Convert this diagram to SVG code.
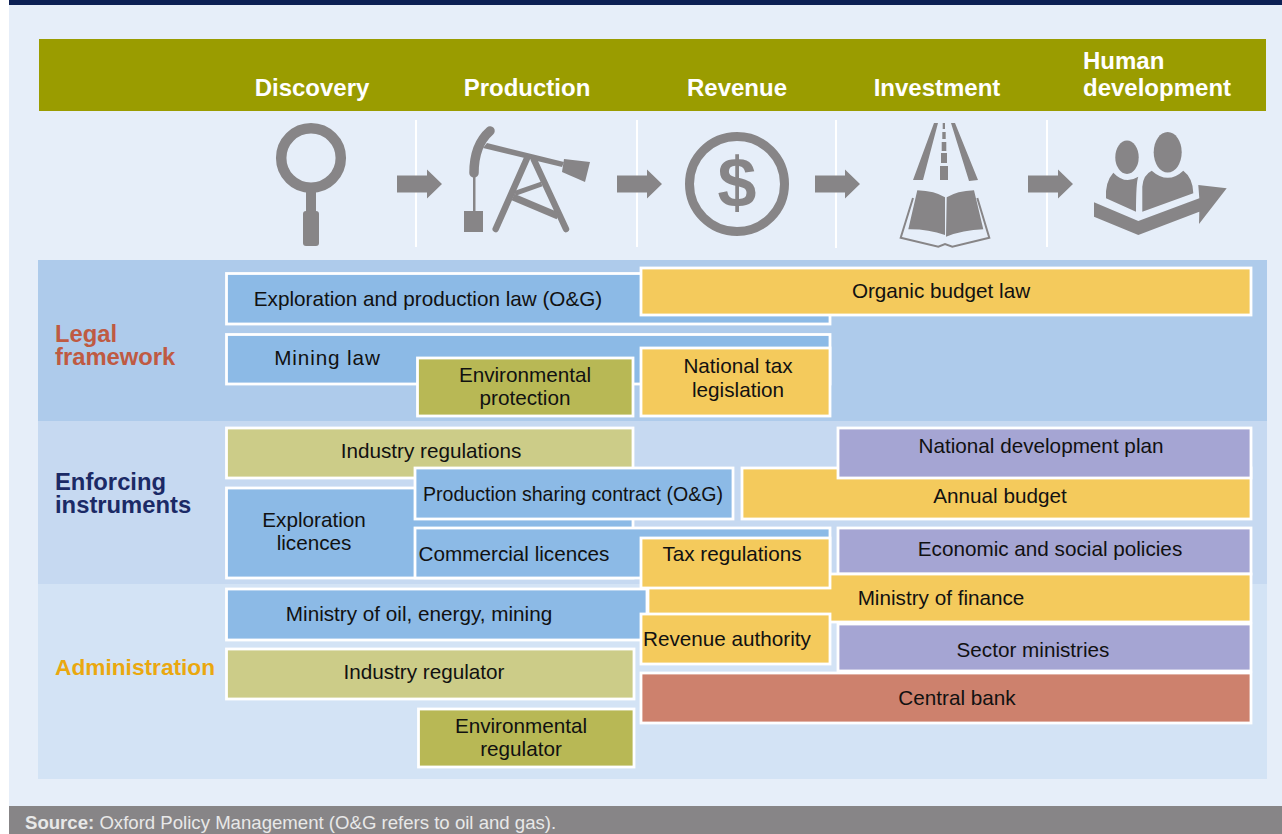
<svg xmlns="http://www.w3.org/2000/svg" width="1282" height="834" viewBox="0 0 1282 834">
<style>
text{font-family:"Liberation Sans",Arial,sans-serif}
.t{font-size:20.700px;fill:#111;text-anchor:middle}
.h{font-size:24px;font-weight:bold;fill:#fff;text-anchor:middle}
.r{font-size:23.800px;font-weight:bold}
.b{stroke:#fff;stroke-width:2.800}
.blue{fill:#8cbae6}.gold{fill:#f4ca5c}.olive{fill:#b8b855}.pale{fill:#cccc88}.lav{fill:#a5a5d3}.red{fill:#cd816d}
.i{fill:#878587}
.l{fill:none;stroke:#878587;stroke-linecap:round}
.sep{stroke:#fff;stroke-width:2}
</style>
<defs>
<path id="arr" d="M0 -8.500H30V-14.500L45 0L30 14.500V8.500H0Z"/>
</defs>
<rect width="1282" height="834" fill="#fff"/>
<rect x="9" y="0" width="1273" height="806" fill="#e6eef9"/>
<rect x="9" width="1273" height="5" fill="#0c2054"/>
<rect x="39" y="39" width="1227" height="72" fill="#9a9c00"/>
<rect x="38" y="260" width="1229" height="161" fill="#aecbeb"/>
<rect x="38" y="421" width="1229" height="163" fill="#c6d9f1"/>
<rect x="38" y="584" width="1229" height="195" fill="#d3e3f5"/>
<g id="headers">
<text class="h" x="312" y="96">Discovery</text>
<text class="h" x="527" y="96">Production</text>
<text class="h" x="737" y="96">Revenue</text>
<text class="h" x="937" y="96">Investment</text>
<text class="h" style="text-anchor:start" x="1083" y="69">Human</text>
<text class="h" style="text-anchor:start" x="1083" y="96">development</text>
</g>
<g id="separators">
<line class="sep" x1="416" y1="120" x2="416" y2="247"/>
<line class="sep" x1="637" y1="120" x2="637" y2="247"/>
<line class="sep" x1="836" y1="120" x2="836" y2="248"/>
<line class="sep" x1="1047" y1="120" x2="1047" y2="247"/>
</g>
<g id="connectors" class="i">
<use href="#arr" x="397" y="184"/>
<use href="#arr" x="617" y="184"/>
<use href="#arr" x="815" y="184"/>
<use href="#arr" x="1028" y="184"/>
</g>
<g id="icon-discovery">
<circle cx="311" cy="158" r="29.800" fill="none" stroke="#878587" stroke-width="10.500"/>
<rect class="i" x="306" y="186" width="10" height="30"/>
<rect class="i" x="303" y="211" width="16" height="35" rx="3"/>
</g>
<g id="icon-production">
<path class="i" d="M487 143L564 162L562 167L483 148Z"/>
<path class="l" stroke-width="9.500" d="M490 131Q474 145 474 173"/>
<path class="i" d="M564 159L590 162L585 182L562 172Z"/>
<rect class="i" x="473" y="173" width="2.500" height="40"/>
<rect class="i" x="464" y="211" width="19" height="21"/>
<path class="l" stroke-width="6.500" d="M526.700 159L495.700 229M534 160L566 229"/>
<path fill="none" stroke="#878587" stroke-width="5" d="M541.700 184L515 193.300"/>
<path fill="none" stroke="#878587" stroke-width="7" d="M513 197L558 216"/>
</g>
<g id="icon-revenue">
<circle cx="737" cy="184" r="47.500" fill="none" stroke="#878587" stroke-width="9"/>
<text x="737" y="207" font-size="70" font-weight="bold" text-anchor="middle" fill="#878587">$</text>
</g>
<g id="icon-investment">
<path class="i" d="M934 123H938L923 180H913ZM951 123H955L978 180L969 181ZM942.700 123H945V129H942.700ZM942.300 132H945.700V139H942.300ZM941.700 142H946.300V151H941.700ZM941 153H947V163H941ZM940 166H948V180H940Z"/>
<path class="i" d="M917.300 190.300Q935 191 945 197.300V235Q928 229 908.300 229.300ZM946.700 197.300Q957 191 974 190.300L983.300 229.300Q963 230 946 236.700Z"/>
<path fill="none" stroke="#878587" stroke-width="2" d="M913 198L900.700 237.700L938.300 246.700L945 244L952.300 246.700L989.300 237.700L977.300 198"/>
</g>
<g id="icon-development">
<ellipse class="i" cx="1127" cy="157.300" rx="11.700" ry="16.700"/>
<ellipse class="i" cx="1167.700" cy="152.300" rx="14" ry="20.300"/>
<path class="i" d="M1113.300 172.700Q1125 185 1138.300 176.700Q1136 182 1136 211.700L1106 198.300Q1105 182 1113.300 172.700Z"/>
<path class="i" d="M1151.700 170.700Q1168 185 1183.300 170.700Q1193 178 1193.300 193.300L1142.300 211.700V186.700Q1143 175 1151.700 170.700Z"/>
<path class="i" d="M1094 202.300L1138.300 221L1199.300 198.300L1198.300 185L1226.700 188.300L1199 224L1199.300 211.700L1138.300 235L1094 216.700Z"/>
</g>
<g id="row-labels">
<text class="r" fill="#bf5a42" x="55" y="342">Legal</text>
<text class="r" fill="#bf5a42" x="55" y="365">framework</text>
<text class="r" fill="#1b2a66" x="55" y="490">Enforcing</text>
<text class="r" fill="#1b2a66" x="55" y="513">instruments</text>
<text class="r" fill="#eaa80f" style="font-size:22.700px" x="55" y="675">Administration</text>
</g>
<g id="n-ep-law"><rect class="b blue" x="226.500" y="273.500" width="603.500" height="50.500"/><text class="t" x="428" y="306">Exploration and production law (O&amp;G)</text></g>
<g id="n-mining-law"><rect class="b blue" x="226.500" y="334.500" width="603.500" height="49.500"/><text class="t" style="letter-spacing:.9px" x="327.500" y="365">Mining law</text></g>
<g id="n-env-protection"><rect class="b olive" x="417.500" y="358" width="215.500" height="58"/><text class="t" x="525" y="382">Environmental</text><text class="t" x="525" y="405">protection</text></g>
<g id="n-organic-budget"><rect class="b gold" x="641" y="268" width="610" height="47"/><text class="t" x="941" y="298">Organic budget law</text></g>
<g id="n-national-tax"><rect class="b gold" x="641" y="348" width="189" height="68"/><text class="t" x="738" y="373">National tax</text><text class="t" x="738" y="397">legislation</text></g>
<g id="n-industry-regs"><rect class="b pale" x="226.500" y="428" width="406.500" height="50"/><text class="t" x="431" y="458">Industry regulations</text></g>
<g id="n-exploration-lic"><rect class="b blue" x="226.500" y="488" width="406.500" height="90"/><text class="t" x="314" y="527">Exploration</text><text class="t" x="314" y="550">licences</text></g>
<g id="n-psc"><rect class="b blue" x="415" y="468" width="318" height="51"/><text class="t" style="font-size:19.560px" x="573" y="501">Production sharing contract (O&amp;G)</text></g>
<g id="n-commercial"><rect class="b blue" x="415" y="528" width="415" height="50"/><text class="t" x="514" y="561">Commercial licences</text></g>
<g id="n-annual-budget"><rect class="b gold" x="742" y="468" width="509" height="51"/><text class="t" x="1000" y="503">Annual budget</text></g>
<g id="n-ndp"><rect class="b lav" x="838" y="428" width="413" height="50"/><text class="t" x="1041" y="453">National development plan</text></g>
<g id="n-econ-social"><rect class="b lav" x="838" y="528" width="413" height="46"/><text class="t" x="1050" y="556">Economic and social policies</text></g>
<g id="n-finance"><rect class="b gold" x="648" y="574" width="603" height="48"/><text class="t" x="941" y="605">Ministry of finance</text></g>
<g id="n-tax-regs"><rect class="b gold" x="641" y="538" width="189" height="50"/><text class="t" x="732" y="561">Tax regulations</text></g>
<g id="n-ministry-oil"><rect class="b blue" x="226.500" y="589" width="420.500" height="51"/><text class="t" x="419" y="621">Ministry of oil, energy, mining</text></g>
<g id="n-sector"><rect class="b lav" x="838" y="624" width="413" height="47"/><text class="t" x="1033" y="657">Sector ministries</text></g>
<g id="n-revenue-auth"><rect class="b gold" x="641" y="614" width="189" height="50"/><text class="t" x="727" y="646">Revenue authority</text></g>
<g id="n-central-bank"><rect class="b red" x="641" y="673" width="610" height="50"/><text class="t" x="957" y="705">Central bank</text></g>
<g id="n-industry-regulator"><rect class="b pale" x="226.500" y="649" width="407.500" height="50"/><text class="t" x="424" y="679">Industry regulator</text></g>
<g id="n-env-regulator"><rect class="b olive" x="418.500" y="709" width="215.500" height="58"/><text class="t" x="521" y="733">Environmental</text><text class="t" x="521" y="756">regulator</text></g>
<g id="footer">
<rect x="9" y="806" width="1273" height="28" fill="#878587"/>
<text x="25" y="829" font-size="18.600" fill="#e8e8e8"><tspan font-weight="bold">Source:</tspan> Oxford Policy Management (O&amp;G refers to oil and gas).</text>
</g>
</svg>
